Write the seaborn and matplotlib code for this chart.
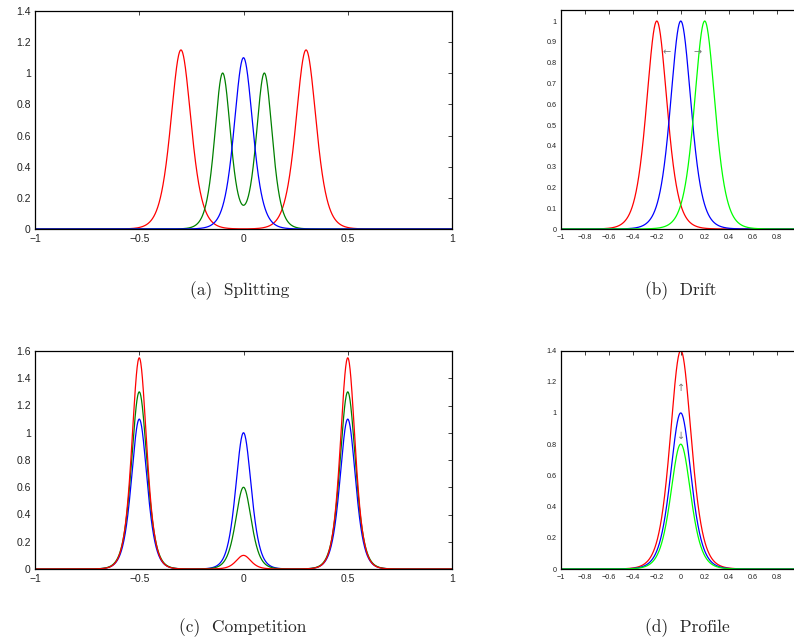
import numpy as np
import pandas as pd
import matplotlib
matplotlib.use("Agg")
import matplotlib.pyplot as plt
import seaborn as sns

sns.set_style("white")
plt.rcParams["font.family"] = ["Liberation Sans", "DejaVu Sans"]

# ---- data: peak parameters (sech^2 shaped bumps) ----
# (a) Splitting
a_series = ["red", "green", "blue"]
a_centers = [[-0.3, 0.3], [-0.1, 0.1], [0.0]]
a_heights = [[1.15, 1.15], [1.0, 1.0], [1.1]]
a_widths = [0.065, 0.051, 0.06]
# (b) Drift
b_series = ["red", "blue", "lime"]
b_centers = [[-0.2], [0.0], [0.2]]
b_heights = [[1.0], [1.0], [1.0]]
b_widths = [0.115, 0.115, 0.115]
# (c) Competition
c_series = ["blue", "green", "red"]
c_centers = [[-0.5, 0.0, 0.5], [-0.5, 0.0, 0.5], [-0.5, 0.0, 0.5]]
c_heights = [[1.1, 1.0, 1.1], [1.3, 0.6, 1.3], [1.55, 0.1, 1.55]]
c_widths = [0.05, 0.05, 0.047]
# (d) Profile
d_series = ["red", "blue", "lime"]
d_centers = [[0.0], [0.0], [0.0]]
d_heights = [[1.4], [1.0], [0.8]]
d_widths = [0.118, 0.115, 0.112]

# tick labels
ab_xticks_wide = [-1, -0.5, 0, 0.5, 1]
ab_xticks_narrow = [-1, -0.8, -0.6, -0.4, -0.2, 0, 0.2, 0.4, 0.6, 0.8]

captions = ["(a)  Splitting", "(b)  Drift", "(c)  Competition", "(d)  Profile"]
colors = {"red": "#ff0000", "green": "#008000", "blue": "#0000ff", "lime": "#00ff00"}

x = np.linspace(-1, 1, 1601)


def build(series, centers, heights, widths):
    rows = []
    for s, cs, hs, w in zip(series, centers, heights, widths):
        y = np.zeros_like(x)
        for c, h in zip(cs, hs):
            y += h / np.cosh((x - c) / w) ** 2
        rows.append(pd.DataFrame({"x": x, "y": y, "series": s}))
    return pd.concat(rows, ignore_index=True)


W, H = 794, 644
fig = plt.figure(figsize=(W / 100, H / 100), dpi=100)


def px_axes(left, top, right, bottom):
    return fig.add_axes([left / W, 1 - bottom / H, (right - left) / W, (bottom - top) / H])


panels = [
    (px_axes(35, 11, 452, 229), build(a_series, a_centers, a_heights, a_widths), a_series,
     (0, 1.4), ab_xticks_wide, np.arange(0, 1.41, 0.2), 7.5),
    (px_axes(561, 10, 800.5, 229), build(b_series, b_centers, b_heights, b_widths), b_series,
     (0, 1.053), ab_xticks_narrow, np.arange(0, 1.01, 0.1), 5.2),
    (px_axes(35, 351, 452, 569), build(c_series, c_centers, c_heights, c_widths), c_series,
     (0, 1.6), ab_xticks_wide, np.arange(0, 1.61, 0.2), 7.5),
    (px_axes(561, 350.5, 800.5, 569), build(d_series, d_centers, d_heights, d_widths), d_series,
     (0, 1.4), ab_xticks_narrow, np.arange(0, 1.41, 0.2), 5.2),
]


def fmt(v):
    v = round(float(v), 2)
    if abs(v) < 1e-9:
        return "0"
    s = ("%g" % v)
    return s.replace("-", "\u2212")


for ax, df, order, ylim, xt, yt, fs in panels:
    sns.lineplot(data=df, x="x", y="y", hue="series", hue_order=order,
                 palette={k: colors[k] for k in order}, linewidth=0.9,
                 legend=False, ax=ax, estimator=None, sort=False)
    ax.set_xlim(-1, 1)
    ax.set_ylim(*ylim)
    ax.set_xticks(xt)
    ax.set_yticks(yt)
    ax.set_xticklabels([fmt(v) for v in xt])
    ax.set_yticklabels([fmt(v) for v in yt])
    ax.set_xlabel("")
    ax.set_ylabel("")
    ax.tick_params(direction="in", length=3, width=0.6, top=True, right=True,
                   labelsize=fs, colors="#222222")
    ax.tick_params(axis="x", pad=3.5)
    ax.tick_params(axis="y", pad=3)
    for sp in ax.spines.values():
        sp.set_visible(True)
        sp.set_color("black")
        sp.set_linewidth(0.9)

# gray arrows
arrow_kw = dict(color="#7a7a7a", fontsize=7, ha="center", va="center", zorder=5,
                family="DejaVu Sans")
axb = panels[1][0]
axb.text(-0.12, 0.848, "\u2190", **arrow_kw)
axb.text(0.137, 0.848, "\u2192", **arrow_kw)
axd = panels[3][0]
axd.text(0.0, 1.158, "\u2191", **arrow_kw)
axd.text(0.0, 0.85, "\u2193", **arrow_kw)

cap_pos = [(240, 291), (681, 291), (243, 628), (687, 628)]
for (cx, cy), t in zip(cap_pos, captions):
    fig.text(cx / W, 1 - cy / H, t, ha="center", va="center", fontsize=12.5,
             family=["cmr10", "DejaVu Serif"])

fig.savefig("out.png", dpi=100)
